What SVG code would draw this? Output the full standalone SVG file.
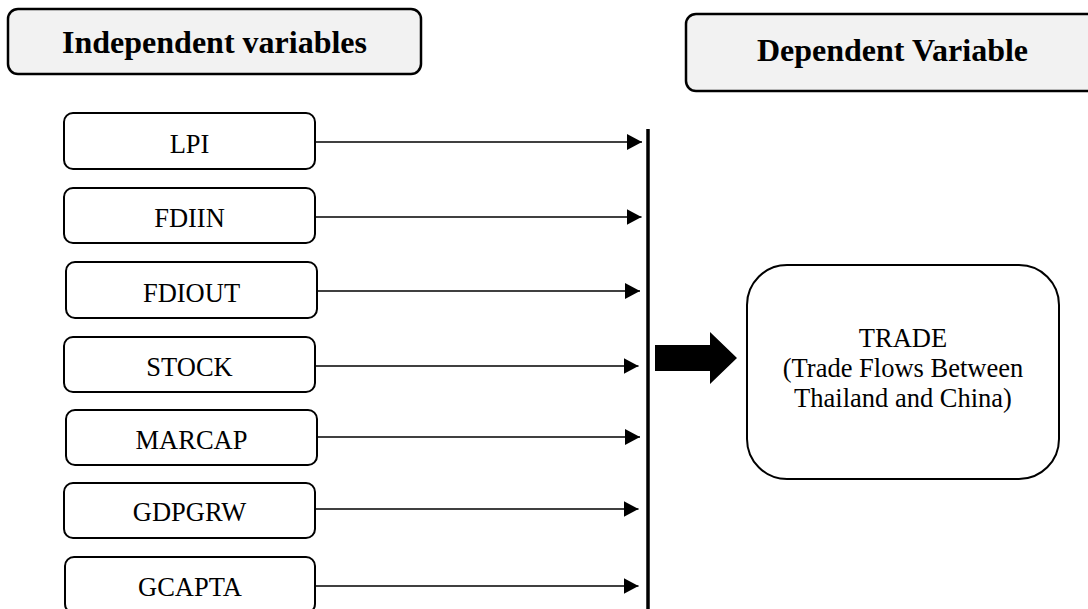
<svg xmlns="http://www.w3.org/2000/svg" width="1088" height="609" viewBox="0 0 1088 609">
  <defs>
    <style>
      .hdr { fill: #f2f2f2; stroke: #000; stroke-width: 2.5; }
      .hdr-t { font-family: "Liberation Serif", "Times New Roman", serif; font-size: 32px; font-weight: bold; text-anchor: middle; fill: #000; }
      .var { fill: #fff; stroke: #000; stroke-width: 2; }
      .var-t { font-family: "Liberation Serif", "Times New Roman", serif; font-size: 26.5px; text-anchor: middle; fill: #000; }
      .link { stroke: #000; stroke-width: 1.3; fill: none; marker-end: url(#head); }
    </style>
    <marker id="head" viewBox="0 0 15 16" refX="15" refY="8" markerWidth="15" markerHeight="16" markerUnits="userSpaceOnUse" orient="auto">
      <path d="M0,0 L15,8 L0,16 Z" fill="#000"/>
    </marker>
  </defs>

  <rect width="1088" height="609" fill="#fff"/>

  <!-- section headers -->
  <g id="independent-header">
    <rect class="hdr" x="8" y="9" width="413" height="65" rx="10"/>
    <text class="hdr-t" x="214.5" y="53">Independent variables</text>
  </g>
  <g id="dependent-header">
    <rect class="hdr" x="686" y="14" width="413" height="77" rx="10"/>
    <text class="hdr-t" x="892.5" y="61">Dependent Variable</text>
  </g>

  <!-- independent variables -->
  <g id="lpi">
    <rect class="var" x="64" y="113" width="251" height="56" rx="9"/>
    <text class="var-t" x="189.5" y="153">LPI</text>
  </g>
  <g id="fdiin">
    <rect class="var" x="64" y="188" width="251" height="55" rx="9"/>
    <text class="var-t" x="189.5" y="226.5">FDIIN</text>
  </g>
  <g id="fdiout">
    <rect class="var" x="66" y="262" width="251" height="56" rx="9"/>
    <text class="var-t" x="191.5" y="301.5">FDIOUT</text>
  </g>
  <g id="stock">
    <rect class="var" x="64" y="337" width="251" height="55" rx="9"/>
    <text class="var-t" x="189.5" y="376">STOCK</text>
  </g>
  <g id="marcap">
    <rect class="var" x="66" y="410" width="251" height="55" rx="9"/>
    <text class="var-t" x="191.5" y="448.5">MARCAP</text>
  </g>
  <g id="gdpgrw">
    <rect class="var" x="64" y="483" width="251" height="55" rx="9"/>
    <text class="var-t" x="189.5" y="521">GDPGRW</text>
  </g>
  <g id="gcapta">
    <rect class="var" x="65" y="557" width="250" height="56" rx="9"/>
    <text class="var-t" x="190" y="596">GCAPTA</text>
  </g>

  <!-- dependent variable -->
  <g id="trade">
    <rect class="var" x="747" y="265" width="312" height="214" rx="40"/>
    <text class="var-t" x="903" y="347">TRADE</text>
    <text class="var-t" x="903" y="377">(Trade Flows Between</text>
    <text class="var-t" x="903" y="407">Thailand and China)</text>
  </g>

  <!-- connectors -->
  <g id="connectors">
    <line class="link" x1="316" y1="142" x2="642" y2="142"/>
    <line class="link" x1="316" y1="217" x2="641.5" y2="217"/>
    <line class="link" x1="318" y1="291" x2="640" y2="291"/>
    <line class="link" x1="316" y1="366" x2="638.5" y2="366"/>
    <line class="link" x1="318" y1="437" x2="640" y2="437"/>
    <line class="link" x1="316" y1="509" x2="638.5" y2="509"/>
    <line class="link" x1="316" y1="586" x2="638.5" y2="586"/>
    <line x1="648" y1="129" x2="648" y2="609" stroke="#000" stroke-width="3.5"/>
    <path d="M655,345 L710,345 L710,332 L737,358 L710,384 L710,371 L655,371 Z" fill="#000"/>
  </g>
</svg>
